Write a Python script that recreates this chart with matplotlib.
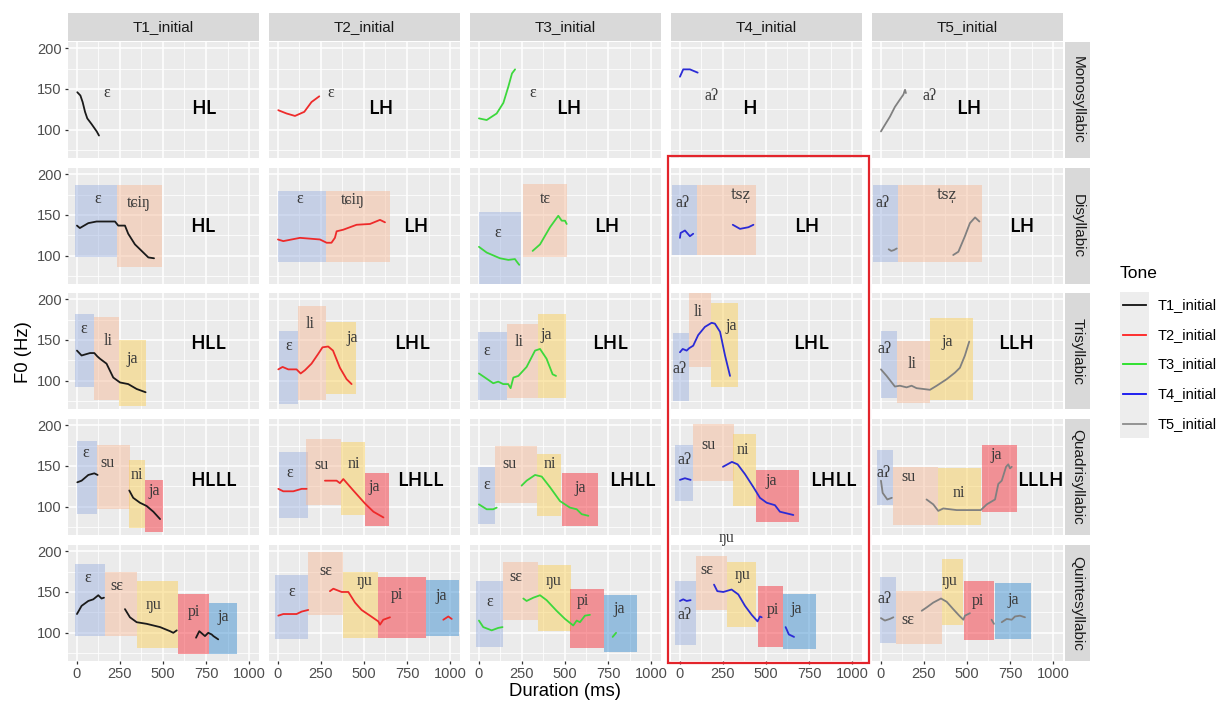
import matplotlib
matplotlib.use("Agg")
import matplotlib.pyplot as plt
from matplotlib.patches import Rectangle
from matplotlib.lines import Line2D

# ---------------- data ----------------
tones = ["T1_initial", "T2_initial", "T3_initial", "T4_initial", "T5_initial"]
lengths = ["Monosyllabic", "Disyllabic", "Trisyllabic", "Quadrisyllabic", "Quintesyllabic"]
x_breaks = [0, 250, 500, 750, 1000]
y_breaks = [100, 150, 200]

# tone-pattern labels per row (columns T1..T5)
mono_patterns = ["HL", "LH", "LH", "H", "LH"]
di_patterns = ["HL", "LH", "LH", "LH", "LH"]
tri_patterns = ["HLL", "LHL", "LHL", "LHL", "LLH"]
quad_patterns = ["HLLL", "LHLL", "LHLL", "LHLL", "LLLH"]
quint_patterns = ["", "", "", "", ""]
# x (ms) of each pattern label, per row
mono_pattern_x = [740, 599, 524, 403, 508]
di_pattern_x = [734, 802, 741, 737, 820]
tri_pattern_x = [763, 777, 762, 760, 788]
quad_pattern_x = [794, 828, 890, 892, 925]
pattern_y = [126, 135, 145, 131, 0]

# ---- Monosyllabic: F0 curves (ms, Hz), syllables (text, ms, Hz)
t1_mono_f0 = [([2, 20, 33, 47, 60, 85, 115, 128], [146, 142, 134, 122, 114, 107, 98, 93])]
t2_mono_f0 = [([2, 50, 99, 153, 195, 240], [124, 120, 117, 122, 134, 141])]
t3_mono_f0 = [([0, 45, 103, 142, 171, 192, 210], [114, 112, 120, 133, 153, 169, 174])]
t4_mono_f0 = [([0, 19, 58, 103], [165, 174, 174, 170])]
t5_mono_f0 = [([0, 17, 52, 81, 110, 130, 140, 145], [98, 104, 116, 128, 137, 143, 149, 145])]
t1_mono_syl = [("ɛ", 173, 145)]
t2_mono_syl = [("ɛ", 306, 145)]
t3_mono_syl = [("ɛ", 312, 145)]
t4_mono_syl = [("aʔ", 184, 141)]
t5_mono_syl = [("aʔ", 285, 141)]

# ---- Disyllabic: syllable boxes (xmin, xmax, ymin, ymax)
t1_di_box = [(-12, 231, 99, 187), (231, 492, 86, 187)]
t2_di_box = [(0, 282, 92, 179), (282, 652, 93, 179)]
t3_di_box = [(0, 242, 60, 154), (258, 514, 99, 188)]
t4_di_box = [(-48, 97, 101, 187), (97, 442, 101, 187)]
t5_di_box = [(-48, 101, 93, 187), (101, 585, 93, 187)]
t1_di_f0 = [([0, 17, 66, 114, 221, 240, 279, 298, 337, 376, 415, 448],
             [137, 134, 140, 142, 142, 137, 137, 127, 114, 106, 98, 97])]
t2_di_f0 = [([0, 31, 128, 244, 283, 311, 331, 341, 380, 457, 535, 593, 622],
             [120, 118, 122, 120, 116, 116, 122, 130, 132, 138, 139, 144, 141])]
t3_di_f0 = [([0, 45, 122, 171, 209, 223, 234], [111, 104, 97, 95, 96, 92, 89]),
            ([312, 355, 413, 461, 481, 500, 510], [106, 114, 135, 149, 143, 143, 139])]
t4_di_f0 = [([0, 4, 29, 58, 77], [122, 128, 131, 124, 127]),
            ([307, 349, 398, 427], [138, 133, 135, 138])]
t5_di_f0 = [([45, 60, 75, 92], [108, 106, 107, 109]),
            ([420, 450, 488, 517, 547, 572], [101, 105, 124, 140, 147, 142])]
t1_di_syl = [("ɛ", 120, 169), ("tɕiŋ", 362, 165)]
t2_di_syl = [("ɛ", 124, 170), ("tɕiŋ", 434, 168)]
t3_di_syl = [("ɛ", 112, 128), ("tɛ", 384, 170)]
t4_di_syl = [("aʔ", 16, 165), ("tsz\u0329", 354, 174)]
t5_di_syl = [("aʔ", 10, 165), ("tsz\u0329", 382, 174)]

# ---- Trisyllabic
t1_tri_box = [(-12, 101, 93, 182), (101, 246, 76, 178), (246, 399, 69, 150)]
t2_tri_box = [(8, 115, 72, 161), (115, 280, 77, 191), (280, 453, 84, 172)]
t3_tri_box = [(-4, 161, 77, 160), (161, 341, 79, 170), (341, 506, 79, 182)]
t4_tri_box = [(-39, 52, 75, 158), (52, 178, 117, 215), (178, 339, 93, 195)]
t5_tri_box = [(0, 93, 79, 161), (93, 283, 73, 149), (283, 535, 76, 177)]
t1_tri_f0 = [([0, 27, 76, 101, 118, 134, 172, 211, 250, 298, 347, 399],
              [137, 131, 134, 134, 130, 127, 121, 104, 98, 96, 90, 86])]
t2_tri_f0 = [([2, 27, 60, 108, 132, 157, 195, 234, 259, 292, 320, 360, 399, 428],
              [114, 117, 114, 114, 109, 113, 121, 133, 141, 142, 137, 116, 102, 96])]
t3_tri_f0 = [([0, 35, 83, 112, 141, 170, 184, 200, 229, 277, 326, 355, 393, 428, 448],
              [109, 104, 97, 99, 96, 96, 91, 104, 106, 117, 137, 139, 127, 108, 106])]
t4_tri_f0 = [([0, 16, 39, 54, 77, 106, 145, 184, 203, 233, 262, 291],
              [135, 139, 137, 140, 143, 156, 166, 171, 170, 160, 131, 106])]
t5_tri_f0 = [([0, 33, 81, 110, 149, 178, 207, 285, 324, 382, 430, 459, 488, 513],
              [114, 106, 93, 94, 92, 94, 91, 89, 94, 102, 110, 116, 131, 148])]
t1_tri_syl = [("ɛ", 37, 163), ("li", 182, 149), ("ja", 320, 127)]
t2_tri_syl = [("ɛ", 60, 143), ("li", 186, 170), ("ja", 434, 152)]
t3_tri_syl = [("ɛ", 45, 136), ("li", 235, 147), ("ja", 393, 156)]
t4_tri_syl = [("aʔ", 0, 114), ("li", 106, 184), ("ja", 295, 167)]
t5_tri_syl = [("aʔ", 23, 139), ("li", 184, 121), ("ja", 385, 148)]

# ---- Quadrisyllabic
t1_quad_box = [(0, 114, 91, 181), (114, 308, 97, 176), (302, 395, 74, 157), (395, 502, 69, 133)]
t2_quad_box = [(8, 176, 86, 167), (163, 365, 102, 183), (365, 503, 90, 179), (503, 647, 77, 142)]
t3_quad_box = [(-4, 93, 79, 149), (93, 340, 105, 174), (340, 476, 89, 165), (481, 690, 77, 141)]
t4_quad_box = [(-29, 78, 107, 176), (73, 314, 132, 201), (308, 443, 101, 189), (443, 689, 82, 145)]
t5_quad_box = [(-21, 68, 102, 169), (68, 333, 78, 149), (333, 579, 78, 147), (585, 789, 94, 176)]
t1_quad_f0 = [([2, 27, 66, 101, 120], [130, 132, 139, 141, 139]),
              ([304, 327, 366, 405, 444, 483], [120, 111, 105, 101, 94, 85])]
t2_quad_f0 = [([2, 31, 89, 138, 167], [122, 119, 119, 122, 122]),
              ([273, 341, 360, 380, 438, 506, 555, 613], [132, 132, 129, 134, 120, 104, 94, 87])]
t3_quad_f0 = [([0, 45, 83, 103], [103, 97, 97, 99]),
              ([248, 277, 326, 365, 413, 471, 529, 568, 597, 636],
               [126, 132, 139, 137, 124, 107, 99, 97, 91, 89])]
t4_quad_f0 = [([0, 29, 62], [133, 135, 133]),
              ([250, 302, 335, 378, 427, 465, 504, 552, 581, 620, 659],
               [149, 155, 152, 140, 124, 111, 105, 102, 94, 92, 90])]
t5_quad_f0 = [([0, 10, 37, 63], [132, 117, 109, 111]),
              ([265, 304, 333, 362, 440, 517, 580, 615, 663, 682, 702, 727, 740, 750, 760],
               [109, 103, 95, 98, 96, 96, 96, 103, 109, 128, 132, 149, 152, 147, 149])]
t1_quad_syl = [("ɛ", 52, 166), ("su", 176, 154), ("ni", 347, 139), ("ja", 448, 119)]
t2_quad_syl = [("ɛ", 70, 141), ("su", 254, 151), ("ni", 442, 153), ("ja", 560, 124)]
t3_quad_syl = [("ɛ", 45, 127), ("su", 176, 153), ("ni", 413, 152), ("ja", 586, 123)]
t4_quad_syl = [("aʔ", 29, 157), ("su", 164, 176), ("ni", 368, 169), ("ja", 530, 131)]
t5_quad_syl = [("aʔ", 14, 141), ("su", 159, 136), ("ni", 455, 117), ("ja", 672, 163)]

# ---- Quintesyllabic
t1_quint_box = [(-12, 163, 96, 184), (163, 347, 96, 174), (347, 589, 82, 163),
                (589, 769, 74, 147), (769, 932, 74, 136)]
t2_quint_box = [(-17, 176, 92, 171), (176, 380, 122, 199), (380, 580, 94, 174),
                (580, 860, 94, 168), (860, 1054, 96, 165)]
t3_quint_box = [(-17, 137, 83, 163), (137, 341, 116, 187), (341, 533, 102, 183),
                (529, 727, 81, 154), (727, 917, 77, 146)]
t4_quint_box = [(-29, 93, 85, 164), (93, 275, 128, 194), (275, 442, 107, 187),
                (451, 601, 83, 157), (601, 791, 80, 148)]
t5_quint_box = [(-6, 87, 88, 168), (87, 353, 86, 151), (353, 475, 110, 190),
                (483, 659, 91, 163), (663, 872, 92, 161)]
t1_quint_f0 = [([0, 27, 66, 95, 124, 143, 157], [123, 133, 139, 141, 146, 142, 143]),
               ([279, 308, 347, 405, 483, 541, 560, 580], [129, 119, 113, 111, 107, 102, 100, 103]),
               ([692, 711, 744, 763, 783, 793, 821], [94, 102, 96, 100, 98, 96, 92])]
t2_quint_f0 = [([2, 31, 108, 138, 176], [121, 123, 123, 126, 128]),
               ([302, 322, 370, 409, 448, 486, 535, 583, 593, 612, 651],
                [151, 154, 150, 150, 137, 128, 121, 114, 110, 116, 119]),
               ([961, 990, 1010], [116, 120, 117])]
t3_quint_f0 = [([0, 25, 74, 112, 137], [115, 107, 103, 106, 107]),
               ([258, 277, 316, 355, 393, 451, 500, 548, 568, 587, 616, 645],
                [142, 139, 143, 146, 140, 127, 117, 109, 115, 113, 121, 122]),
               ([777, 797], [95, 100])]
t4_quint_f0 = [([0, 19, 39, 62], [139, 141, 139, 140]),
               ([198, 217, 252, 300, 339, 378, 417, 451, 465, 475],
                [159, 151, 150, 153, 147, 133, 122, 114, 120, 119]),
               ([614, 633, 663], [107, 98, 95])]
t5_quint_f0 = [([0, 23, 52, 72], [118, 115, 117, 119]),
               ([237, 265, 304, 349, 382, 420, 455, 479, 488, 517],
                [127, 131, 137, 142, 138, 129, 121, 116, 121, 124]),
               ([643, 657], [116, 111]),
               ([702, 731, 760, 779, 808, 837], [113, 117, 116, 120, 121, 119])]
t1_quint_syl = [("ɛ", 60, 167), ("sɛ", 231, 157), ("ŋu", 448, 134), ("pi", 682, 126), ("ja", 847, 119)]
t2_quint_syl = [("ɛ", 80, 150), ("sɛ", 279, 176), ("ŋu", 506, 163), ("pi", 690, 146), ("ja", 950, 145)]
t3_quint_syl = [("ɛ", 60, 138), ("sɛ", 215, 168), ("ŋu", 436, 164), ("pi", 605, 139), ("ja", 817, 129)]
t4_quint_syl = [("aʔ", 29, 122), ("sɛ", 159, 177), ("ŋu", 362, 171), ("pi", 543, 128), ("ja", 674, 129),
                ("ŋu", 271, 216)]
t5_quint_syl = [("aʔ", 23, 142), ("sɛ", 159, 116), ("ŋu", 401, 164), ("pi", 566, 139), ("ja", 766, 140)]

# ---------------- tables built from the lists above ----------------
f0_table = [
    [t1_mono_f0, t2_mono_f0, t3_mono_f0, t4_mono_f0, t5_mono_f0],
    [t1_di_f0, t2_di_f0, t3_di_f0, t4_di_f0, t5_di_f0],
    [t1_tri_f0, t2_tri_f0, t3_tri_f0, t4_tri_f0, t5_tri_f0],
    [t1_quad_f0, t2_quad_f0, t3_quad_f0, t4_quad_f0, t5_quad_f0],
    [t1_quint_f0, t2_quint_f0, t3_quint_f0, t4_quint_f0, t5_quint_f0],
]
box_table = [
    [[], [], [], [], []],
    [t1_di_box, t2_di_box, t3_di_box, t4_di_box, t5_di_box],
    [t1_tri_box, t2_tri_box, t3_tri_box, t4_tri_box, t5_tri_box],
    [t1_quad_box, t2_quad_box, t3_quad_box, t4_quad_box, t5_quad_box],
    [t1_quint_box, t2_quint_box, t3_quint_box, t4_quint_box, t5_quint_box],
]
syl_table = [
    [t1_mono_syl, t2_mono_syl, t3_mono_syl, t4_mono_syl, t5_mono_syl],
    [t1_di_syl, t2_di_syl, t3_di_syl, t4_di_syl, t5_di_syl],
    [t1_tri_syl, t2_tri_syl, t3_tri_syl, t4_tri_syl, t5_tri_syl],
    [t1_quad_syl, t2_quad_syl, t3_quad_syl, t4_quad_syl, t5_quad_syl],
    [t1_quint_syl, t2_quint_syl, t3_quint_syl, t4_quint_syl, t5_quint_syl],
]
pattern_table = [mono_patterns, di_patterns, tri_patterns, quad_patterns, quint_patterns]
pattern_x_table = [mono_pattern_x, di_pattern_x, tri_pattern_x, quad_pattern_x, [0] * 5]

# ---------------- styles ----------------
tone_colors = ["#1a1a1a", "#EE2A2A", "#3CD83C", "#2B2BD6", "#808080"]
legend_colors = ["#111111", "#FF2020", "#22E022", "#1010F0", "#8C8C8C"]
box_colors = ["#A1B5E1", "#F5BD9D", "#F9D15F", "#F53741", "#4191D1"]
SERIF = ["Liberation Serif", "DejaVu Serif"]
SANS = ["Liberation Sans", "DejaVu Sans"]

W, H = 1225, 703
fig = plt.figure(figsize=(W / 100, H / 100), dpi=100)
fig.patch.set_facecolor("white")


def rect(left, top, w, h):
    return [left / W, 1 - (top + h) / H, w / W, h / H]


col_left = [68, 269, 470, 671, 872]
row_top = [42, 168, 293, 419, 545]
PW, PH = 191, 116
XLIM = (-52, 1058)
YLIM = (65.5, 207.5)

for r in range(5):
    for c in range(5):
        ax = fig.add_axes(rect(col_left[c], row_top[r], PW, PH))
        ax.set_facecolor("#EBEBEB")
        ax.set_xlim(*XLIM)
        ax.set_ylim(*YLIM)
        ax.set_xticks(x_breaks)
        ax.set_xticks([125, 375, 625, 875], minor=True)
        ax.set_yticks(y_breaks)
        ax.set_yticks([75, 125, 175], minor=True)
        ax.grid(which="major", color="white", lw=1.1)
        ax.grid(which="minor", color="white", lw=0.55)
        ax.set_axisbelow(True)
        for s in ax.spines.values():
            s.set_visible(False)
        ax.tick_params(which="minor", length=0)
        ax.tick_params(which="major", length=2.5, width=0.9, color="#333333",
                       labelsize=10.5, labelcolor="#4D4D4D", pad=2)
        if c != 0:
            ax.tick_params(axis="y", which="major", length=0, labelleft=False)
        if r != 4:
            ax.tick_params(axis="x", which="major", length=0, labelbottom=False)
        for lab in ax.get_xticklabels() + ax.get_yticklabels():
            lab.set_family(SANS)

        for i, (x0, x1, y0, y1) in enumerate(box_table[r][c]):
            ax.add_patch(Rectangle((x0, y0), x1 - x0, y1 - y0, facecolor=box_colors[i],
                                   alpha=0.5, edgecolor="none", zorder=1))
        for xs, ys in f0_table[r][c]:
            ax.plot(xs, ys, color=tone_colors[c], lw=1.3, zorder=3,
                    solid_capstyle="round", solid_joinstyle="round")
        for txt, tx, ty in syl_table[r][c]:
            fam = ["DejaVu Serif"] if "\u0329" in txt else SERIF
            fs = 10 if "\u0329" in txt else 11.5
            ax.text(tx, ty, txt, family=fam, fontsize=fs, color="#3A3A3A",
                    ha="center", va="center", zorder=4, clip_on=False)
        if pattern_table[r][c]:
            ax.text(pattern_x_table[r][c], pattern_y[r], pattern_table[r][c],
                    family=["Open Sans", "DejaVu Sans"], fontsize=14, fontweight="semibold",
                    color="black", ha="center", va="center", zorder=4, clip_on=False)

# top strips
for c in range(5):
    sax = fig.add_axes(rect(col_left[c], 13, PW, 28))
    sax.set_facecolor("#D9D9D9")
    sax.set_xticks([]); sax.set_yticks([])
    for s in sax.spines.values():
        s.set_visible(False)
    sax.text(0.5, 0.5, tones[c], transform=sax.transAxes, ha="center", va="center",
             fontsize=11, color="#1A1A1A", family=SANS)

# right strips
for r in range(5):
    sax = fig.add_axes(rect(1065, row_top[r], 25, PH))
    sax.set_facecolor("#D9D9D9")
    sax.set_xticks([]); sax.set_yticks([])
    for s in sax.spines.values():
        s.set_visible(False)
    sax.text(0.5, 0.5, lengths[r], transform=sax.transAxes, ha="center", va="center",
             rotation=270, fontsize=11, color="#1A1A1A", family=SANS)

# axis titles
fig.text(565 / W, 1 - 692 / H, "Duration (ms)", ha="center", va="center",
         fontsize=13.3, family=SANS, color="black")
fig.text(24 / W, 1 - 352 / H, "F0 (Hz)", ha="center", va="center", rotation=90,
         fontsize=13.3, family=SANS, color="black")

# legend
fig.text(1120 / W, 1 - 273 / H, "Tone", ha="left", va="center", fontsize=12.5,
         family=SANS, color="black")
fig.add_artist(Rectangle((1120 / W, 1 - 438 / H), 29 / W, 146 / H,
                         transform=fig.transFigure, facecolor="#EDEDED", edgecolor="none"))
leg_y = [305, 335, 364, 394, 424]
for i in range(5):
    fig.add_artist(Line2D([1123 / W, 1146 / W], [1 - leg_y[i] / H] * 2,
                          transform=fig.transFigure, color=legend_colors[i], lw=1.3))
    fig.text(1158 / W, 1 - leg_y[i] / H, tones[i], ha="left", va="center",
             fontsize=10.5, family=SANS, color="black")

# red highlight frame around T4 column (disyllabic to quintesyllabic)
fig.add_artist(Rectangle((668 / W, 1 - 663 / H), 201 / W, 507 / H,
                         transform=fig.transFigure, facecolor="none",
                         edgecolor="#E3242B", lw=1.6))

fig.savefig("out.png", dpi=100, facecolor="white")
